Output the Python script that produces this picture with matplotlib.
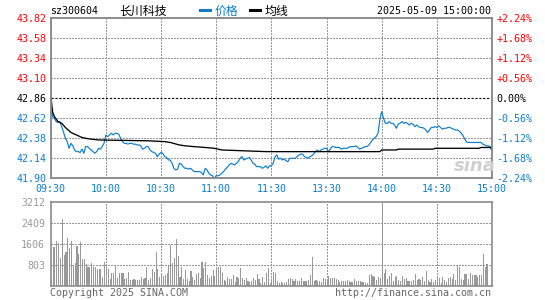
import matplotlib
matplotlib.use('Agg')
import matplotlib.pyplot as plt
from matplotlib.lines import Line2D

# 长川科技 sz300604 2025-05-09 分时
prev_close = 42.86
price_ticks = [41.90, 42.14, 42.38, 42.62, 42.86, 43.10, 43.34, 43.58, 43.82]
pct_labels = ['-2.24%', '-1.68%', '-1.12%', '-0.56%', '0.00%',
              '+0.56%', '+1.12%', '+1.68%', '+2.24%']
time_ticks = [0, 30, 60, 90, 120, 150, 180, 210, 240]
time_labels = ['09:30', '10:00', '10:30', '11:00', '11:30',
               '13:30', '14:00', '14:30', '15:00']
vol_ticks = [803, 1606, 2409, 3212]

price = [
    42.82, 42.64, 42.62, 42.58, 42.57, 42.58, 42.52, 42.45, 42.38, 42.34,
    42.26, 42.32, 42.29, 42.24, 42.22, 42.22, 42.21, 42.25, 42.20, 42.28,
    42.28, 42.26, 42.24, 42.22, 42.20, 42.22, 42.26, 42.25, 42.28, 42.32,
    42.42, 42.40, 42.42, 42.44, 42.42, 42.44, 42.44, 42.43, 42.38, 42.34,
    42.32, 42.32, 42.31, 42.32, 42.32, 42.31, 42.31, 42.30, 42.30, 42.29,
    42.25, 42.26, 42.28, 42.28, 42.24, 42.22, 42.21, 42.20, 42.16, 42.19,
    42.21, 42.20, 42.16, 42.15, 42.12, 42.12, 42.08, 42.02, 42.00, 42.01,
    42.08, 42.07, 42.04, 42.02, 42.02, 42.01, 42.02, 42.00, 41.98, 41.98,
    41.98, 41.98, 41.97, 41.94, 42.02, 42.00, 41.96, 41.94, 41.93, 41.90,
    41.93, 41.93, 41.94, 41.96, 41.98, 42.01, 42.03, 42.06, 42.08, 42.07,
    42.06, 42.08, 42.10, 42.14, 42.16, 42.12, 42.13, 42.14, 42.15, 42.12,
    42.08, 42.07, 42.04, 42.04, 42.04, 42.02, 42.03, 42.05,
    42.02, 42.05, 42.05,
    42.08, 42.16, 42.18, 42.13, 42.14, 42.12, 42.13, 42.11, 42.10,
    42.14, 42.14, 42.14, 42.14, 42.16, 42.18, 42.19, 42.19, 42.16, 42.15,
    42.14, 42.16, 42.17, 42.19, 42.22, 42.24, 42.22, 42.24, 42.25, 42.26,
    42.26, 42.22, 42.25, 42.28, 42.28, 42.27, 42.27, 42.27, 42.25, 42.26,
    42.26, 42.26, 42.27, 42.28, 42.28, 42.28, 42.29, 42.27, 42.25, 42.26,
    42.27, 42.28, 42.28, 42.30, 42.33, 42.36, 42.38, 42.40,
    42.44, 42.60,
    42.70, 42.62, 42.56, 42.56, 42.58, 42.56, 42.56, 42.54, 42.50, 42.55,
    42.56, 42.58, 42.56, 42.57, 42.56, 42.54, 42.56, 42.55, 42.52, 42.54,
    42.52, 42.51, 42.51, 42.50, 42.48, 42.45, 42.48, 42.51, 42.51, 42.52,
    42.51, 42.53, 42.51, 42.49, 42.50, 42.50, 42.51, 42.51, 42.50, 42.49,
    42.48, 42.48, 42.47, 42.45, 42.42, 42.38, 42.34, 42.33, 42.33, 42.33,
    42.33, 42.33, 42.33, 42.33, 42.33, 42.31, 42.30, 42.29, 42.29, 42.28,
    42.22,
]

avg_minute = [0, 1, 2, 4, 6, 8, 10, 11, 13, 15, 17, 19, 22, 26, 53, 62, 65,
              70, 73, 78, 84, 89, 93, 117, 179, 180, 188, 189, 208, 209, 233,
              234, 239, 240]
avg_price = [42.90, 42.70, 42.64, 42.58, 42.56, 42.51, 42.47, 42.45, 42.43,
             42.41, 42.39, 42.38, 42.37, 42.36, 42.35, 42.34, 42.33, 42.30,
             42.29, 42.28, 42.27, 42.26, 42.24, 42.22, 42.22, 42.24, 42.24,
             42.25, 42.25, 42.26, 42.26, 42.27, 42.27, 42.26]

volume = [
    255, 1466, 1466, 1708, 1619, 1045, 2550, 1173, 1288, 1810,
    1428, 1708, 790, 880, 1517, 1211, 1670, 1020, 1007, 829,
    701, 701, 854, 727, 727, 625, 625, 637, 319, 893,
    790, 625, 255, 472, 472, 752, 280, 472, 472, 472,
    242, 280, 510, 217, 217, 242, 217, 217, 217, 319,
    242, 280, 727, 217, 280, 625, 535, 1275, 625, 319,
    408, 382, 408, 472, 752, 1556, 854, 1045, 1772, 1135,
    319, 701, 242, 600, 242, 178, 561, 344, 217, 446,
    472, 280, 918, 663, 918, 408, 280, 370, 600, 370,
    663, 727, 727, 472, 217, 178, 319, 242, 255, 408,
    128, 319, 280, 663, 280, 217, 280, 178, 153, 178,
    280, 217, 446, 242, 115, 319, 153, 497, 663,
    89, 178, 510, 472,
    178, 89, 153, 89, 115, 153, 242, 306, 255, 178,
    242, 178, 178, 280, 178, 178, 178, 217, 408, 1084,
    178, 217, 178, 178, 153, 280, 242, 217, 370, 280,
    280, 280, 242, 217, 153, 191, 178, 178, 217, 178,
    153, 153, 242, 191, 178, 178, 153, 153, 115, 89,
    395, 446, 370, 319, 217, 319,
    280, 3212,
    472, 637, 242, 370, 497, 178, 319, 370, 217, 178,
    370, 242, 280, 178, 178, 178, 217, 446, 217, 255,
    217, 319, 178, 561, 217, 153, 255, 153, 217, 319,
    280, 115, 319, 217, 153, 280, 319, 242, 446, 217,
    752, 727, 255, 217, 446, 446, 268, 472, 408, 408,
    408, 344, 408, 408, 1211, 727, 816,
    0, 0, 0,
]

blue = '#0b7dd0'
red = '#ff0000'
grey = '#999999'
mono = 'DejaVu Sans Mono'
cjk = ['DejaVu Sans Mono', 'Noto Sans CJK SC']
# 1px 点线网格
grid_kw = dict(color='#999999', lw=0.72, ls=(0, (1.4, 1.4)), antialiased=False, zorder=1)

W, H = 545, 300
fig = plt.figure(figsize=(W / 100, H / 100), dpi=100)
L, R = 50.7, 492.0
ax = fig.add_axes([L / W, 1 - 178.3 / H, (R - L) / W, (178.3 - 18.3) / H])
axv = fig.add_axes([L / W, 1 - 285.7 / H, (R - L) / W, (285.7 - 201.7) / H])

# 网格
for t in time_ticks[1:-1]:
    ax.axvline(t, **grid_kw)
    axv.axvline(t, **grid_kw)
for p in price_ticks[1:-1]:
    if p != prev_close:
        ax.axhline(p, **grid_kw)
for v in vol_ticks[:-1]:
    axv.axhline(v, **grid_kw)

minutes = list(range(len(price)))
ax.plot(minutes, price, color=blue, lw=0.85, zorder=3)
ax.plot(avg_minute, avg_price, color='black', lw=0.95, zorder=3)
ax.axhline(prev_close, color='black', lw=0.8, ls=(0, (2, 1.5)), zorder=2)

ax.set_xlim(0, 240)
ax.set_ylim(price_ticks[0], price_ticks[-1])
ax.set_xticks(time_ticks)
ax.set_xticklabels(time_labels)
ax.set_yticks(price_ticks)
ax.set_yticklabels(['%.2f' % p for p in price_ticks])
ax.tick_params(length=0, labelsize=7.2, pad=3)
ax.tick_params(axis='x', pad=4, labelcolor=blue)
for lbl in ax.get_xticklabels() + ax.get_yticklabels():
    lbl.set_family(mono)
for lbl, p in zip(ax.get_yticklabels(), price_ticks):
    lbl.set_color(red if p > prev_close else ('black' if p == prev_close else blue))

ax2 = ax.twinx()
ax2.set_ylim(ax.get_ylim())
ax2.set_yticks(price_ticks)
ax2.set_yticklabels(pct_labels)
ax2.tick_params(length=0, labelsize=7.2, pad=3)
for lbl, p in zip(ax2.get_yticklabels(), price_ticks):
    lbl.set_family(mono)
    lbl.set_color(red if p > prev_close else ('black' if p == prev_close else blue))

axv.bar(minutes, volume, width=0.6, align='edge', color=grey, lw=0, zorder=2)
axv.set_xlim(0, 240)
axv.set_ylim(0, vol_ticks[-1])
axv.set_xticks([])
axv.set_yticks(vol_ticks)
axv.set_yticklabels([str(v) for v in vol_ticks])
axv.tick_params(length=0, labelsize=7.2, pad=4, labelcolor=grey)
for lbl in axv.get_yticklabels():
    lbl.set_family(mono)

for a in (ax, ax2, axv):
    for s in a.spines.values():
        s.set_color('#8c8c8c')
        s.set_linewidth(1.2)

# 标题行
fig.text(50 / W, 1 - 11 / H, 'sz300604', family=mono, fontsize=7.2, va='center')
fig.text(119 / W, 1 - 11 / H, '长川科技', family=cjk, fontsize=8.6, va='center')
fig.add_artist(Line2D([200 / W, 210 / W], [1 - 9.5 / H] * 2, color=blue, lw=2.2))
fig.text(215 / W, 1 - 11 / H, '价格', family=cjk, fontsize=8.6, va='center', color=blue)
fig.add_artist(Line2D([250 / W, 260 / W], [1 - 9.5 / H] * 2, color='black', lw=2.2))
fig.text(265 / W, 1 - 11 / H, '均线', family=cjk, fontsize=8.6, va='center')
fig.text(491 / W, 1 - 11 / H, '2025-05-09 15:00:00', family=mono, fontsize=7.2,
         va='center', ha='right')

# 页脚
fig.text(50 / W, 1 - 293 / H, 'Copyright 2025 SINA.COM', family=mono, fontsize=7.2,
         va='center', color='#666666')
fig.text(491 / W, 1 - 293 / H, 'http://finance.sina.com.cn', family=mono, fontsize=7.2,
         va='center', ha='right', color='#666666')

# 水印
fig.text(475 / W, 1 - 166 / H, 'sina', fontsize=13, fontweight='bold', style='italic',
         color='#cfcfcf', ha='center', va='center', zorder=1)

fig.savefig('out.png', dpi=100)
